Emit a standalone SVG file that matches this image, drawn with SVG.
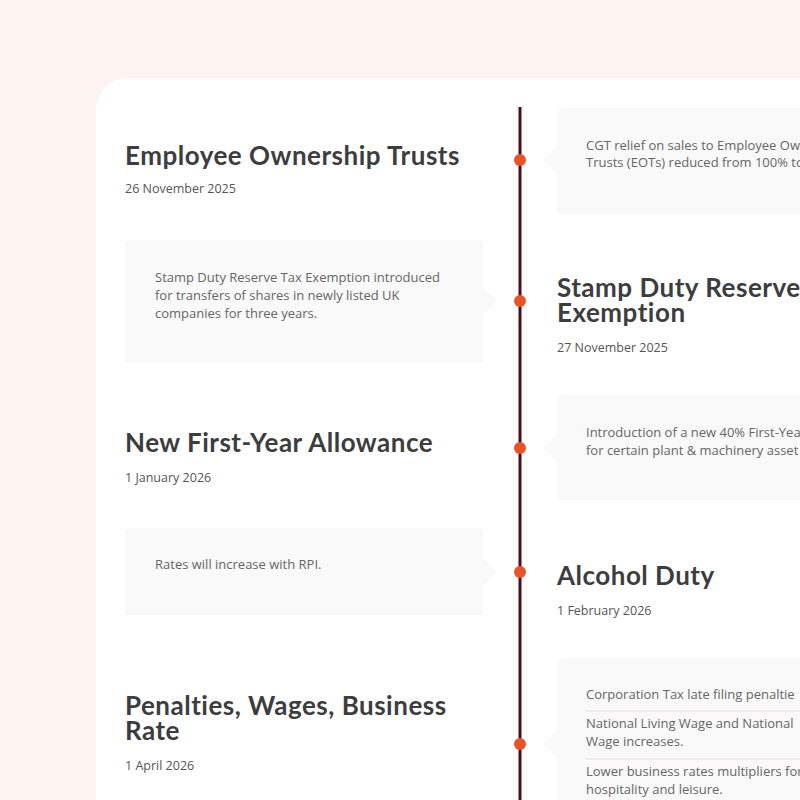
<svg xmlns="http://www.w3.org/2000/svg" width="800" height="800" viewBox="0 0 800 800">
<style>
.title{font-family:"Lato","Open Sans",sans-serif;font-weight:700;font-size:26px;letter-spacing:0.5px;fill:#3d3d40}
.date{font-family:"Open Sans","Noto Sans",sans-serif;font-size:12.5px;fill:#555}
.body{font-family:"Open Sans","Noto Sans",sans-serif;font-size:13px;fill:#666}
.box{fill:#f9f9f9}
.sep{stroke:#f6d9d2;stroke-width:1}
.dot{fill:#e8542a}
</style>
<rect x="0" y="0" width="800" height="800" fill="#fdf3f0"/>
<rect x="96" y="78" width="760" height="800" rx="32" fill="#ffffff"/>
<g id="connectors">
<line x1="520" y1="107" x2="520" y2="800" stroke="#4c0d1f" stroke-width="3"/>
</g>
<g id="node-eot">
<text class="title" x="125" y="165">Employee Ownership Trusts</text>
<text class="date" x="125" y="193">26 November 2025</text>
<path class="box" d="M557 114 a6 6 0 0 1 6 -6 H810 V214 H557 V174 L543 160 L557 146 Z"/>
<text class="body" x="586" y="150">CGT relief on sales to Employee Ow</text>
<text class="body" x="586" y="167">Trusts (EOTs) reduced from 100% to</text>
<circle class="dot" cx="520" cy="160" r="6"/>
</g>
<g id="node-sdrt">
<path class="box" d="M125 246 a6 6 0 0 1 6 -6 H477 a6 6 0 0 1 6 6 V287 L497 301 L483 315 V363 H125 Z"/>
<text class="body" x="155" y="282">Stamp Duty Reserve Tax Exemption introduced</text>
<text class="body" x="155" y="300">for transfers of shares in newly listed UK</text>
<text class="body" x="155" y="318">companies for three years.</text>
<text class="title" x="557" y="297">Stamp Duty Reserve</text>
<text class="title" x="557" y="322">Exemption</text>
<text class="date" x="557" y="352">27 November 2025</text>
<circle class="dot" cx="520" cy="301" r="6"/>
</g>
<g id="node-fya">
<text class="title" x="125" y="452">New First-Year Allowance</text>
<text class="date" x="125" y="482">1 January 2026</text>
<path class="box" d="M557 401 a6 6 0 0 1 6 -6 H810 V500 H557 V462 L543 448 L557 434 Z"/>
<text class="body" x="586" y="437">Introduction of a new 40% First-Yea</text>
<text class="body" x="586" y="455">for certain plant &amp; machinery asset</text>
<circle class="dot" cx="520" cy="448" r="6"/>
</g>
<g id="node-alcohol">
<path class="box" d="M125 534 a6 6 0 0 1 6 -6 H477 a6 6 0 0 1 6 6 V558 L497 572 L483 586 V615 H125 Z"/>
<text class="body" x="155" y="569">Rates will increase with RPI.</text>
<text class="title" x="557" y="585">Alcohol Duty</text>
<text class="date" x="557" y="615">1 February 2026</text>
<circle class="dot" cx="520" cy="572" r="6"/>
</g>
<g id="node-penalties">
<text class="title" x="125" y="715">Penalties, Wages, Business</text>
<text class="title" x="125" y="740">Rate</text>
<text class="date" x="125" y="770">1 April 2026</text>
<path class="box" d="M557 664 a6 6 0 0 1 6 -6 H810 V810 H557 V758 L543 744 L557 730 Z"/>
<text class="body" x="586" y="699">Corporation Tax late filing penaltie</text>
<line class="sep" x1="586" y1="711" x2="810" y2="711"/>
<text class="body" x="586" y="728">National Living Wage and National</text>
<text class="body" x="586" y="746">Wage increases.</text>
<line class="sep" x1="586" y1="759" x2="810" y2="759"/>
<text class="body" x="586" y="776">Lower business rates multipliers for</text>
<text class="body" x="586" y="794">hospitality and leisure.</text>
<circle class="dot" cx="520" cy="744" r="6"/>
</g>
</svg>
